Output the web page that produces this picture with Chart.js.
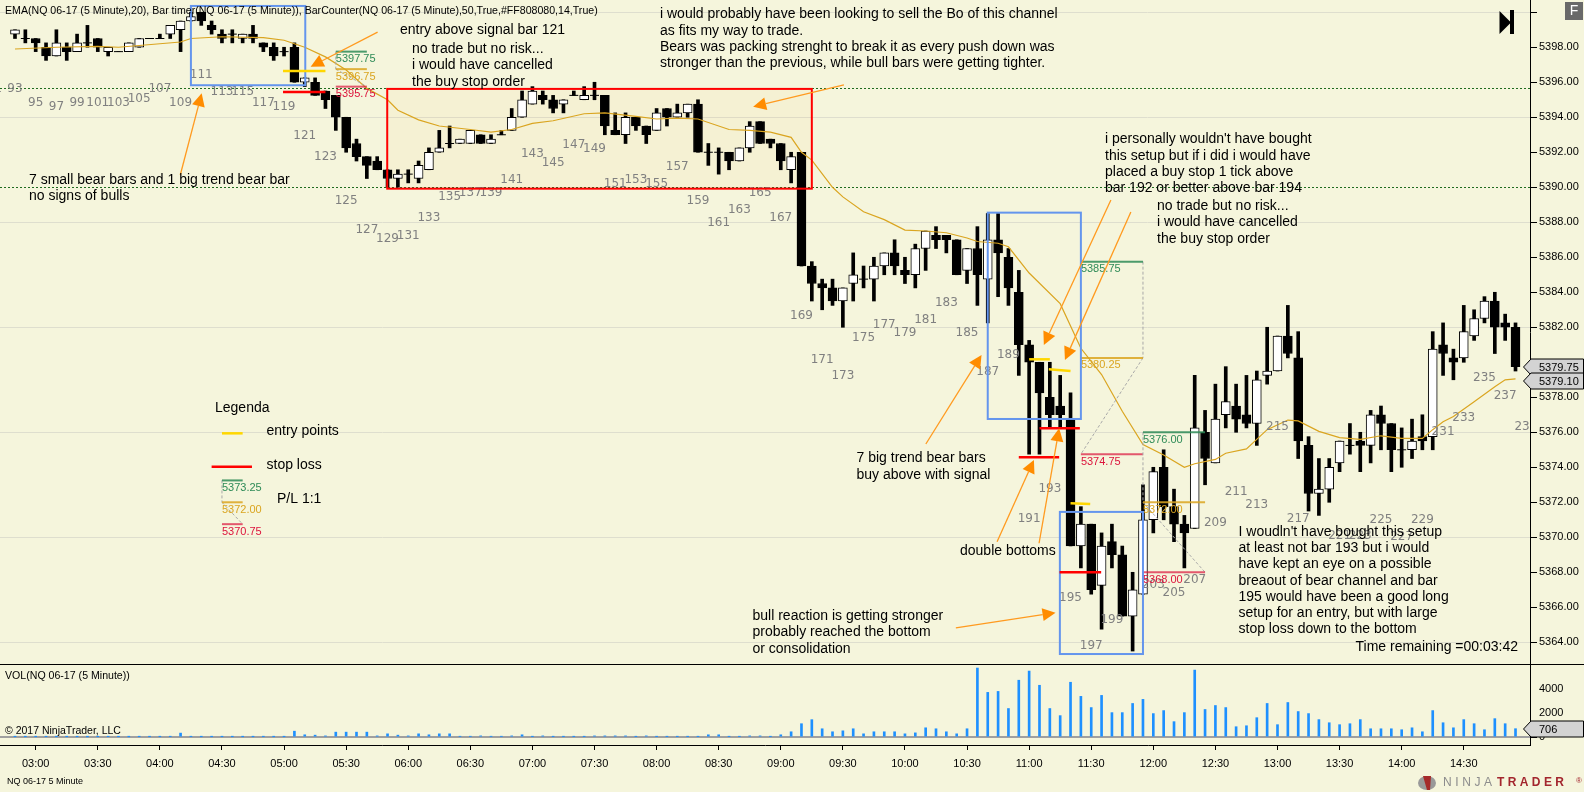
<!DOCTYPE html>
<html>
<head>
<meta charset="utf-8">
<title>NQ 06-17 5 Minute</title>
<script src="https://cdn.jsdelivr.net/npm/chart.js@4"></script>
<style>
  html, body { margin: 0; padding: 0; background: #F5F5DC; overflow: hidden; }
  canvas { display: block; }
</style>
</head>
<body>
<canvas id="chart" width="1584" height="792"></canvas>
<script>
//? CHART VALUES (bar 93 is the first one, its x index is -2, 03:00 sits on index 0)
const firstBarIndex = -2;
const barOpen = [
  5398.75,5398.5,5398.5,5398,5397.5,5398,5397.75,5398.25,5398.5,5397.75,
  5397.75,5397.75,5398,5398.5,5398.5,5398.75,5399,5399.5,5400,5399.25,
  5398.75,5398.75,5398.5,5398.75,5398.25,5398,5397.75,5398,5396,5396,
  5395.5,5395.25,5394,5392.5,5391.75,5391.5,5391,5390.5,5390.75,5390.5,
  5391,5392,5392.5,5392.5,5392.5,5393,5392.5,5393,5393.25,5394,
  5394.75,5395.25,5395,5394.75,5395.25,5395,5395.25,5395.25,5393.25,5393,
  5394,5393.5,5393.25,5394.5,5394,5394.25,5394.75,5392,5392,5392,
  5391.5,5392.25,5393.75,5392.75,5392.5,5391,5392,5385.5,5384.5,5384.25,
  5383.5,5384.5,5384.75,5384.75,5385.5,5386.25,5385.25,5385,5386.5,5387.25,
  5387.25,5387,5385.25,5386.5,5384.75,5387,5386,5384,5381,5380,
  5378,5377.5,5376.75,5369.5,5370.75,5367.25,5369.75,5369,5365.5,5366.75,
  5371,5374,5371.75,5370.75,5370.5,5376,5374.25,5377,5377.5,5377,
  5376.5,5379.25,5379.5,5381.5,5380.25,5375.25,5372.5,5372.75,5374.25,5375.25,
  5375.5,5375.25,5377,5376.5,5375,5375,5375.75,5375.75,5381,5380.25,
  5380.25,5381.5,5382.5,5383.5,5382.25,5382
];
const barHigh = [
  5399,5399,5398.5,5398.25,5399,5398.25,5398.75,5399.25,5398.5,5398,
  5397.75,5398.25,5398.5,5398.5,5398.75,5399.25,5399.5,5400,5400,5399.5,
  5399,5399,5398.75,5399.25,5398.25,5398.25,5398,5398.25,5396.25,5396.25,
  5395.5,5395.25,5394,5392.75,5391.75,5391.75,5391,5391,5391,5391.5,
  5392.25,5393.25,5393.5,5392.75,5393.25,5393,5393,5393.25,5394.5,5395.5,
  5395.75,5395.5,5395.25,5395,5395.5,5395.75,5396,5395.25,5394.25,5394.25,
  5394,5393.5,5394.5,5394.5,5394.75,5394.75,5395,5392.5,5392.25,5392,
  5392.25,5393.75,5393.75,5392.75,5392.5,5392,5392,5385.75,5384.75,5384.75,
  5384.25,5386.25,5385.5,5386,5386.25,5387,5386,5386.75,5387.5,5387.75,
  5387.25,5387,5386.5,5387.75,5388.5,5388.5,5386.5,5385.25,5381.25,5380,
  5380,5379.25,5378.25,5371.75,5370.75,5370.25,5370.75,5369.5,5368,5373,
  5374,5375,5372.75,5371.25,5379.25,5377.25,5378.75,5379.75,5378.75,5379.25,
  5379.5,5382,5381.5,5383.25,5381.75,5375.75,5374.5,5374.5,5375.5,5376.5,
  5376,5377.25,5377.5,5376.5,5376.25,5376.75,5377,5381.75,5382.25,5380.75,
  5383.25,5383,5383.75,5384,5382.75,5382.25
];
const barLow = [
  5398.5,5398.25,5397.75,5397.25,5397.5,5397.25,5397.75,5398,5397.75,5397.5,
  5397.75,5397.75,5398,5398.5,5398.5,5398.5,5397.75,5399.5,5399.25,5398.75,
  5398.25,5398.25,5398.25,5398.25,5397.75,5397.25,5397.5,5396,5395.75,5395.25,
  5394.5,5393.25,5392,5391.5,5390.5,5391,5390,5390,5390.25,5390.25,
  5391,5392,5392.25,5392.5,5392.5,5392.5,5392.5,5393,5393.25,5394,
  5394.75,5394.75,5394.25,5394.25,5395.25,5395,5395,5393,5393,5392.5,
  5393.25,5392.5,5393.25,5393.5,5394,5394,5392,5391.25,5390.75,5391,
  5391.5,5392,5392.5,5392.25,5391,5390.25,5385.5,5383.5,5383,5383.25,
  5382,5383.5,5384.25,5383.5,5385,5385,5384.5,5384.25,5385.25,5386.5,
  5386.25,5385,5384.5,5383.25,5382.25,5383.75,5383.25,5379.25,5374.75,5374.75,
  5376.25,5376.25,5369.5,5368.25,5366.75,5364.75,5368.25,5365.5,5363.5,5366.75,
  5370.25,5371,5369.75,5368.25,5370.5,5373,5374.25,5376.25,5376,5376.25,
  5375.25,5378.75,5379.5,5380.25,5374.5,5371.5,5371.25,5372,5373.75,5374.75,
  5373.75,5374.25,5375,5373.75,5374,5374.5,5375,5375,5379.25,5379,
  5380,5381.25,5382.25,5380.5,5381.25,5379.5
];
const barClose = [
  5399,5398.5,5398.25,5397.5,5398.25,5397.75,5398.25,5398.25,5398,5398,
  5397.75,5398.25,5398.5,5398.5,5398.5,5399.25,5399.5,5399.75,5399.5,5399,
  5398.5,5398.75,5398.75,5398.5,5398,5397.5,5397.75,5396,5396.25,5395.25,
  5395,5394,5392.25,5391.75,5391.25,5391,5390.5,5390.75,5390.75,5391.25,
  5392,5392.25,5392.5,5392.75,5393.25,5392.5,5392.75,5393,5394,5395,
  5395.5,5395,5394.5,5395,5395.25,5395.25,5395.25,5393.5,5393,5394,
  5393.5,5393,5394.25,5394,5394.25,5394.75,5392,5392,5392,5391.5,
  5392.25,5393.5,5392.5,5392.5,5391.5,5391.75,5385.5,5384.5,5384.25,5383.5,
  5384.25,5385,5384.75,5385.5,5386.25,5385.5,5385,5386.5,5387.5,5387,
  5387,5385,5386.5,5385,5387,5386.25,5384.25,5381,5380,5378.25,
  5377,5377,5369.5,5370.75,5367,5369.5,5369,5365.5,5367,5371,
  5373.75,5371.75,5370.75,5370.25,5376.25,5374.5,5376.75,5377.75,5376.75,5376.5,
  5379,5379.5,5381.5,5380.5,5375.5,5372.5,5372.75,5374,5375.5,5375.25,
  5375.25,5377,5376.5,5375,5375,5375.5,5375.5,5380.75,5380.5,5380,
  5381.75,5382.5,5383.5,5382,5382,5379.75
];
const barVolume = [
  40,40,40,50,40,40,40,30,40,50,
  40,30,40,40,40,50,340,50,40,40,
  40,40,40,40,50,40,40,500,200,170,
  110,420,420,420,420,110,280,170,110,280,
  200,280,280,60,60,110,60,60,110,200,
  50,110,50,50,50,50,110,110,110,110,
  50,110,50,50,50,50,50,200,200,50,
  50,110,110,50,200,450,1120,1456,700,450,
  530,700,280,450,450,450,280,360,780,700,
  450,280,700,5740,3720,3800,2380,4730,5490,4310,
  2380,1790,4560,3390,2460,3470,2040,2040,2800,3140,
  1960,2210,1290,2040,5570,2300,2630,2460,870,950,
  1620,2800,1040,2880,2130,1960,1460,1200,1040,1120,
  1460,700,700,700,620,780,450,2210,1200,780,
  1460,1120,620,1540,1120,706
];

const emaBars = [
  -2,2,6,8,12,14,15,18,22,24,26,28,30,32,34,35,37,39,42,44,46,48,50,53,55,58,60,62,64,67,69,71,73,74,
  75,77,78,80,82,84,86,88,90,91,93,94,96,99,101,103,105,107,109,111,112,114,115,117,119,121,122,124,126,128,130,132,134,135,136,137,139,141,142,143
];
const emaValues = [
  5397.9,5398,5398.05,5398,5398.2,5398.3,5398.5,5398.6,5398.55,5398.4,5398,5397.45,5396.7,5395.65,5395,5394.4,5393.85,5393.5,5393.3,5393.15,5393.3,5393.65,5393.8,5394.2,5394.25,5394.05,5393.9,5393.95,5393.9,5393.3,5393.25,5393.15,5392.85,5392,
  5391.55,5390,5389.45,5388.6,5388.15,5387.55,5387.5,5387.4,5387.1,5386.9,5386.8,5386.6,5385.1,5383.35,5380.8,5379.3,5377.2,5375.3,5374.7,5374,5374.2,5374.45,5374.8,5375.05,5376.15,5376.7,5376.65,5376.05,5375.7,5375.6,5375.8,5375.65,5375.65,5376.15,5376.6,5376.9,5377.75,5378.6,5379,5379.05
];

const timeTicks = ['03:00','03:30','04:00','04:30','05:00','05:30','06:00','06:30','07:00','07:30','08:00','08:30','09:00','09:30','10:00','10:30','11:00','11:30','12:00','12:30','13:00','13:30','14:00','14:30'];
const volumeTicks = [0, 2000, 4000];

// bar counter labels, printed on every other bar, 201 and 219 can't be seen in the picture
const counterNumbers = [91,93,95,97,99,101,103,105,107,109,111,113,115,117,119,121,123,125,127,129,131,133,135,137,139,141,143,145,147,149,151,153,155,157,159,161,163,165,167,169,171,173,175,177,179,181,183,185,187,189,191,193,195,197,199,203,205,207,209,211,213,215,217,221,223,225,227,229,231,233,235,237,239];
const counterPrices = [
  5395.6,5395.6,5394.85,5394.6,5394.85,5394.85,5394.85,5395.05,5395.6,5394.85,5396.45,5395.45,5395.45,5394.85,5394.6,5392.95,5391.75,5389.2,
  5387.55,5387.05,5387.25,5388.25,5389.45,5389.7,5389.7,5390.45,5391.9,5391.4,5392.4,5392.2,5390.2,5390.45,5390.2,5391.15,5389.2,5387.95,5388.7,5389.7,5388.25,
  5382.65,5380.15,5379.2,5381.4,5382.15,5381.7,5382.4,5383.4,5381.7,5379.45,5380.45,5371.05,5372.75,5366.55,5363.8,5365.3,5367.3,5366.8,5367.55,5370.8,
  5372.6,5371.85,5376.3,5371.05,5370.1,5370.1,5371,5370.05,5371,5376.05,5376.8,5379.1,5378.1,5376.3
];

const gridEvery = 6;
const hiddenPriceTicks = [5400, 5380]; // 5380 sits behind the value flag
const dashedLevels = [5395.67, 5390];

//? NOTES ON THE CHART, all in bar index / price so they stay on the scales
const blueBoxes = [[15, 5400.36, 26.05, 5395.83], [92, 5388.55, 101, 5376.76], [98.97, 5371.45, 107, 5363.33]];
const redBox = [33.97, 5395.62, 75, 5389.92];
const entryLines = [[23.9, 5396.65, 28, 5396.65], [96, 5380.17, 98, 5380.17], [97.9, 5379.6, 100, 5379.5], [100, 5371.95, 101.9, 5371.9], [18, 5375.94, 20, 5375.94]];
const stopLines = [[23.9, 5395.45, 28, 5395.45], [97, 5376.23, 100.9, 5376.23], [95, 5374.57, 98.9, 5374.57], [98.94, 5368, 102.96, 5368], [17, 5374.03, 20.9, 5374.03]];
const arrows = [
  [13.97, 5390.7, 16.04, 5395.37], [33.04, 5398.86, 26.57, 5396.89], [78.1, 5395.85, 69.33, 5394.6],
  [86.02, 5375.33, 91.4, 5380.42], [103.9, 5389.27, 97.42, 5380.99], [105.83, 5388.59, 99.46, 5380.13],
  [92.9, 5369.75, 96.46, 5374.42], [96.96, 5369.66, 98.9, 5376.23], [88.92, 5364.82, 98.55, 5365.69]
];
// risk reward tools: left bar, right bar, target, entry, stop
const rewardTools = [
  [29, 32, 5397.75, 5396.75, 5395.75, 'left'],
  [101, 107, 5385.75, 5380.25, 5374.75, 'right'],
  [107, 113, 5376, 5372, 5368, 'left'],
  [18, 20, 5373.25, 5372, 5370.75, 'left']
];

const notes = [
  ['EMA(NQ 06-17 (5 Minute),20), Bar timer(NQ 06-17 (5 Minute)), BarCounter(NQ 06-17 (5 Minute),50,True,#FF808080,14,True)', 5, 11, 10.6],
  ['entry above signal bar 121', 400, 30.5],
  ['no trade but no risk...', 412, 49.5],
  ['i would have cancelled', 412, 65.5],
  ['the buy stop order', 412, 82],
  ['i would probably have been looking to sell the Bo of this channel', 660, 14],
  ['as fits my way to trade.', 660, 31.5],
  ['Bears was packing strenght to break it as every push down was', 660, 47.5],
  ['stronger than the previous, while bull bars were getting tighter.', 660, 63],
  ['7 small bear bars and 1 big trend bear bar', 29, 180],
  ['no signs of bulls', 29, 196],
  ["i personally wouldn't have bought", 1105, 139.5],
  ['this setup but if i did i would have', 1105, 156.5],
  ['placed a buy stop 1 tick above', 1105, 172.5],
  ['bar 192 or better above bar 194', 1105, 188],
  ['no trade but no risk...', 1157, 206],
  ['i would have cancelled', 1157, 222],
  ['the buy stop order', 1157, 239.5],
  ['Legenda', 215, 408],
  ['entry points', 266.5, 431],
  ['stop loss', 266.5, 465],
  ['P/L 1:1', 277, 499.5],
  ['7 big trend bear bars', 856.5, 458.5],
  ['buy above with signal', 856.5, 475],
  ['double bottoms', 960, 551],
  ['bull reaction is getting stronger', 752.5, 616],
  ['probably reached the bottom', 752.5, 632.5],
  ['or consolidation', 752.5, 649.5],
  ["I woudln't have bought this setup", 1238.5, 532.5],
  ['at least not bar 193 but i would', 1238.5, 548.5],
  ['have kept an eye on a possible', 1238.5, 564.5],
  ['breaout of bear channel and bar', 1238.5, 581],
  ['195 would have been a good long', 1238.5, 597],
  ['setup for an entry, but with large', 1238.5, 613],
  ['stop loss down to the bottom', 1238.5, 629.5],
  ['Time remaining =00:03:42', 1355.5, 647.5],
  ['VOL(NQ 06-17 (5 Minute))', 5, 676, 10.6],
  ['\u00A9 2017 NinjaTrader, LLC', 5, 731, 10.5],
  ['NQ 06-17 5 Minute', 7, 782, 9]
];

//? BUILD DATASETS
const barIndex = i => firstBarIndex + i;
const wickData = barOpen.map((o, i) => ({ x: barIndex(i), y: [barLow[i], barHigh[i]] }));
const bodyData = barOpen.map((o, i) => ({ x: barIndex(i), y: [Math.min(o, barClose[i]), Math.max(o, barClose[i])], up: barClose[i] > o }))
  .filter(d => d.y[0] !== d.y[1]);
const dojiData = barOpen.map((o, i) => ({ x: barIndex(i), y: o })).filter((d, i) => barOpen[i] === barClose[i]);
const volumeData = barVolume.map((v, i) => ({ x: barIndex(i), y: v }));
const emaData = emaBars.map((b, i) => ({ x: b, y: emaValues[i] }));

//? DRAWING HELPERS
function segment(ctx, x1, y1, x2, y2) {
  ctx.beginPath();
  ctx.moveTo(x1, y1);
  ctx.lineTo(x2, y2);
  ctx.stroke();
}

function drawArrow(ctx, x1, y1, x2, y2) {
  const a = Math.atan2(y2 - y1, x2 - x1);
  const len = 13, half = 6.5;
  const bx = x2 - Math.cos(a) * len, by = y2 - Math.sin(a) * len;
  ctx.strokeStyle = '#FF9A1F';
  ctx.lineWidth = 1.3;
  segment(ctx, x1, y1, bx, by);
  ctx.fillStyle = '#FF8C00';
  ctx.beginPath();
  ctx.moveTo(x2, y2);
  ctx.lineTo(bx - Math.sin(a) * half, by + Math.cos(a) * half);
  ctx.lineTo(bx + Math.sin(a) * half, by - Math.cos(a) * half);
  ctx.closePath();
  ctx.fill();
}

function drawFlag(ctx, text, cy) {
  const top = cy - 8, bottom = cy + 8;
  ctx.fillStyle = '#D3D3D3';
  ctx.strokeStyle = '#000';
  ctx.lineWidth = 1;
  ctx.beginPath();
  ctx.moveTo(1523.5, cy);
  ctx.lineTo(1531, top);
  ctx.lineTo(1583.5, top);
  ctx.lineTo(1583.5, bottom);
  ctx.lineTo(1531, bottom);
  ctx.closePath();
  ctx.fill();
  ctx.stroke();
  ctx.fillStyle = '#000';
  ctx.font = '11px "Liberation Sans"';
  ctx.textAlign = 'left';
  ctx.textBaseline = 'middle';
  ctx.fillText(text, 1539, cy + 0.5);
}

const overlayPlugin = {
  id: 'overlay',
  beforeDatasetsDraw(chart) {
    const { ctx, scales: { x, y }, chartArea } = chart;
    ctx.save();
    // red box fill goes under the candles
    ctx.fillStyle = 'rgba(255,165,0,0.04)';
    ctx.fillRect(x.getPixelForValue(redBox[0]), y.getPixelForValue(redBox[1]),
      x.getPixelForValue(redBox[2]) - x.getPixelForValue(redBox[0]), y.getPixelForValue(redBox[3]) - y.getPixelForValue(redBox[1]));
    ctx.strokeStyle = '#1F6B1F';
    ctx.lineWidth = 1;
    ctx.setLineDash([2, 2]);
    dashedLevels.forEach(p => {
      const py = Math.round(y.getPixelForValue(p)) + 0.5;
      segment(ctx, chartArea.left, py, chartArea.right, py);
    });
    ctx.restore();
  },
  afterDatasetsDraw(chart) {
    const { ctx, scales: { x, y }, chartArea } = chart;
    const X = v => x.getPixelForValue(v), Y = v => y.getPixelForValue(v);
    ctx.save();

    //? bar counter
    ctx.save();
    ctx.beginPath();
    ctx.rect(chartArea.left, chartArea.top, chartArea.width, y.bottom);
    ctx.clip();
    ctx.fillStyle = '#808080';
    ctx.font = '12px "DejaVu Sans"';
    ctx.textAlign = 'center';
    ctx.textBaseline = 'middle';
    counterNumbers.forEach((n, i) => ctx.fillText(String(n), X(n - 95), Y(counterPrices[i])));
    ctx.restore();

    //? risk reward tools
    rewardTools.forEach(t => {
      const [l, r, target, entry, stop, side] = t;
      const edge = side === 'left' ? l : r, other = side === 'left' ? r : l;
      ctx.lineWidth = 1;
      ctx.strokeStyle = '#A9A9A9';
      ctx.setLineDash([3, 2]);
      segment(ctx, X(edge), Y(target), X(edge), Y(entry));
      segment(ctx, X(edge), Y(entry), X(other), Y(stop));
      ctx.setLineDash([]);
      ctx.lineWidth = 2;
      [[target, 'rgba(46,139,87,0.85)', '#2E8B57'], [entry, 'rgba(218,165,32,0.85)', '#DAA520'], [stop, 'rgba(220,20,60,0.7)', '#DC143C']].forEach(lv => {
        ctx.strokeStyle = lv[1];
        segment(ctx, X(l), Y(lv[0]), X(r), Y(lv[0]));
        ctx.fillStyle = lv[2];
        ctx.font = '11px "Liberation Sans"';
        ctx.textAlign = 'left';
        ctx.textBaseline = 'middle';
        ctx.fillText(lv[0].toFixed(2), X(l), Y(lv[0]) + 7.5);
      });
    });

    //? boxes
    ctx.lineWidth = 2;
    ctx.strokeStyle = '#6495ED';
    blueBoxes.forEach(b => ctx.strokeRect(X(b[0]), Y(b[1]), X(b[2]) - X(b[0]), Y(b[3]) - Y(b[1])));
    ctx.strokeStyle = '#FF0000';
    ctx.strokeRect(X(redBox[0]), Y(redBox[1]), X(redBox[2]) - X(redBox[0]), Y(redBox[3]) - Y(redBox[1]));

    //? entry and stop lines
    ctx.lineWidth = 2.5;
    ctx.strokeStyle = '#FFD700';
    entryLines.forEach(l => segment(ctx, X(l[0]), Y(l[1]), X(l[2]), Y(l[3])));
    ctx.strokeStyle = '#FF0000';
    stopLines.forEach(l => segment(ctx, X(l[0]), Y(l[1]), X(l[2]), Y(l[3])));

    arrows.forEach(a => drawArrow(ctx, X(a[0]), Y(a[1]), X(a[2]), Y(a[3])));

    //? text notes
    ctx.fillStyle = '#000';
    ctx.textAlign = 'left';
    ctx.textBaseline = 'middle';
    notes.forEach(n => {
      ctx.font = (n[3] || 14) + 'px "Liberation Sans"';
      ctx.fillText(n[0], n[1], n[2]);
    });

    //? go to last bar button and the F button
    ctx.fillStyle = '#000';
    ctx.beginPath();
    ctx.moveTo(1499.5, 11);
    ctx.lineTo(1511, 22.5);
    ctx.lineTo(1499.5, 34);
    ctx.closePath();
    ctx.fill();
    ctx.fillRect(1510, 10, 4, 24);
    ctx.fillStyle = '#696969';
    ctx.fillRect(1565, 2, 18, 18);
    ctx.fillStyle = '#fff';
    ctx.font = '14px "Liberation Sans"';
    ctx.textAlign = 'center';
    ctx.fillText('F', 1574, 11.5);

    //? pane separator
    ctx.strokeStyle = '#000';
    ctx.lineWidth = 1;
    const sep = Math.round(y.bottom) + 0.5;
    segment(ctx, 0, sep, 1584, sep);

    //? value flags on the axis
    drawFlag(ctx, barClose[barClose.length - 1].toFixed(2), 367);
    drawFlag(ctx, '5379.10', 381);
    drawFlag(ctx, String(barVolume[barVolume.length - 1]), 729);

    //? logo
    ctx.fillStyle = '#999';
    ctx.beginPath();
    ctx.ellipse(1427, 783, 9, 7, 0, 0, Math.PI * 2);
    ctx.fill();
    ctx.fillStyle = '#A52A2A';
    ctx.beginPath();
    ctx.moveTo(1423, 776);
    ctx.lineTo(1431, 776);
    ctx.lineTo(1430, 790);
    ctx.lineTo(1427, 790);
    ctx.closePath();
    ctx.fill();
    ctx.textAlign = 'left';
    ctx.textBaseline = 'middle';
    ctx.font = '12px "Liberation Sans"';
    ctx.letterSpacing = '3.6px';
    ctx.fillStyle = '#8C8C8C';
    ctx.fillText('NINJA', 1443, 783);
    ctx.font = 'bold 12px "Liberation Sans"';
    ctx.letterSpacing = '3.4px';
    ctx.fillStyle = '#A3262E';
    ctx.fillText('TRADER', 1497, 783);
    ctx.letterSpacing = '0px';
    ctx.font = '8px "Liberation Sans"';
    ctx.fillText('\u00AE', 1576, 781);
    ctx.restore();
  }
};

// tick labels hanging over the chart edges must not push the plot area in
function fixScale(s, size) {
  if (s.isHorizontal()) s.height = size; else s.width = size;
  s.paddingLeft = s.paddingRight = s.paddingTop = s.paddingBottom = 0;
}

//? CHART
new Chart(document.getElementById('chart'), {
  data: {
    datasets: [
      { type: 'line', data: emaData, yAxisID: 'y', borderColor: '#DAA520', borderWidth: 1.2, pointRadius: 0, tension: 0, order: 0 },
      { type: 'scatter', data: dojiData, yAxisID: 'y', pointStyle: 'line', pointRadius: 4.5, borderColor: '#000', borderWidth: 1, order: 1 },
      { type: 'bar', data: bodyData, yAxisID: 'y', grouped: false, barThickness: 9, borderSkipped: false, borderWidth: 1, borderColor: '#000',
        backgroundColor: bodyData.map(d => d.up ? '#FFFFFF' : '#000000'), order: 2 },
      { type: 'bar', data: wickData, yAxisID: 'y', grouped: false, barThickness: 3, backgroundColor: '#000', order: 3 },
      { type: 'bar', data: volumeData, yAxisID: 'yVol', grouped: false, barThickness: 2, backgroundColor: '#1E90FF', order: 4 }
    ]
  },
  options: {
    responsive: false,
    devicePixelRatio: 1,
    animation: false,
    events: [],
    layout: { padding: 0, autoPadding: false },
    plugins: { legend: { display: false }, tooltip: { enabled: false } },
    scales: {
      x: {
        type: 'linear',
        min: -3.449,
        max: 144.4,
        offset: false,
        afterFit: s => fixScale(s, 47),
        border: { color: '#000', width: 1 },
        grid: { offset: false, drawOnChartArea: false, tickLength: 5, tickColor: c => (c.tick && timeTicks[c.tick.value / 6]) ? '#000' : 'transparent' },
        ticks: {
          stepSize: 6, includeBounds: false, autoSkip: false, maxRotation: 0, padding: 7, color: '#000',
          font: { family: '"Liberation Sans"', size: 11 },
          callback: v => timeTicks[v / 6] || ''
        }
      },
      y: {
        type: 'linear',
        position: 'right',
        stack: 'panes',
        stackWeight: 664,
        min: 5362.76,
        max: 5400.7,
        afterFit: s => fixScale(s, 54),
        border: { color: '#000', width: 1 },
        grid: {
          tickLength: 7, tickColor: '#000',
          color: c => (c.tick && (c.tick.value - 5364) % gridEvery === 0) ? '#DEDECE' : 'transparent'
        },
        ticks: {
          stepSize: 2, includeBounds: false, autoSkip: false, padding: 2, color: '#000',
          font: { family: '"Liberation Sans"', size: 11 },
          callback: v => hiddenPriceTicks.includes(v) ? '' : v.toFixed(2)
        }
      },
      yVol: {
        type: 'linear',
        position: 'right',
        stack: 'panes',
        stackWeight: 81,
        min: -647,
        max: 6076,
        afterFit: s => fixScale(s, 54),
        afterBuildTicks: s => { s.ticks = volumeTicks.map(v => ({ value: v })); },
        border: { color: '#000', width: 1 },
        grid: {
          tickLength: 7, tickColor: '#000',
          lineWidth: c => (c.tick && c.tick.value === 0) ? 2 : 0,
          color: c => (c.tick && c.tick.value === 0) ? '#A0A0A0' : 'transparent'
        },
        ticks: {
          autoSkip: false, padding: 2, color: '#000',
          font: { family: '"Liberation Sans"', size: 11 },
          callback: v => String(v)
        }
      }
    }
  },
  plugins: [overlayPlugin]
});
</script>
</body>
</html>
